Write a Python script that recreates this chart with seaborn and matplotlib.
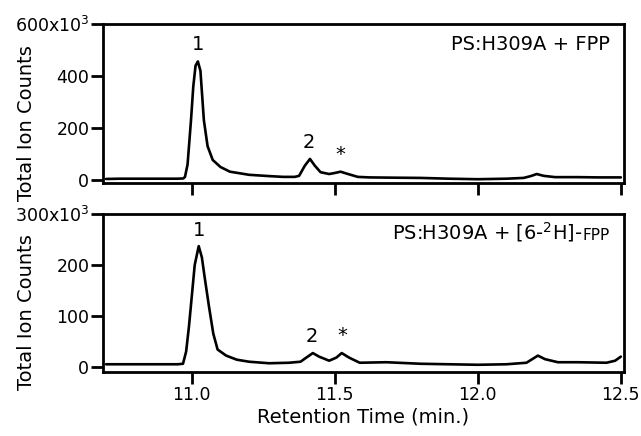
import matplotlib
matplotlib.use("Agg")
import matplotlib.pyplot as plt
import matplotlib.ticker as mticker
import seaborn as sns
import pandas as pd

# --- data (time in min, counts in thousands) ---
time_fpp = [10.70, 10.75, 10.80, 10.85, 10.90, 10.95, 10.970, 10.976, 10.985, 10.997,
            11.005, 11.013, 11.021, 11.030, 11.042, 11.055, 11.073, 11.100, 11.133, 11.200,
            11.270, 11.320, 11.360, 11.375, 11.395, 11.413, 11.430, 11.450, 11.480, 11.500,
            11.520, 11.540, 11.580, 11.620, 11.700, 11.800, 11.900, 12.000, 12.100, 12.160,
            12.185, 12.206, 12.230, 12.270, 12.350, 12.420, 12.500]
counts_fpp = [4, 5, 5, 5, 5, 5, 6, 12, 60, 230,
              360, 440, 456, 420, 230, 130, 77, 50, 32, 20,
              15, 12, 12, 16, 55, 81, 55, 30, 23, 27,
              32, 25, 12, 10, 9, 8, 5, 3, 5, 8,
              15, 23, 16, 11, 11, 10, 10]

time_d = [10.70, 10.80, 10.90, 10.95, 10.969, 10.980, 10.990, 11.000, 11.010, 11.024,
          11.035, 11.045, 11.060, 11.075, 11.090, 11.120, 11.157, 11.200, 11.270, 11.340,
          11.380, 11.400, 11.423, 11.445, 11.480, 11.505, 11.524, 11.550, 11.587, 11.680,
          11.800, 11.900, 12.000, 12.100, 12.170, 12.190, 12.210, 12.235, 12.280, 12.350,
          12.450, 12.480, 12.500]
counts_d = [5, 5, 5, 5, 6, 30, 80, 140, 200, 237,
            215, 175, 118, 65, 34, 22, 14, 10, 7, 8,
            10, 18, 27, 20, 12, 18, 27, 18, 8, 9,
            6, 5, 4, 5, 8, 15, 22, 15, 9, 9,
            8, 12, 20]

x_ticks = [11.0, 11.5, 12.0, 12.5]
y_ticks_top = [0, 200, 400, 600]
y_ticks_bot = [0, 100, 200, 300]

# peak labels: (label, time, counts)
peaks_fpp = [("1", 11.02, 456), ("2", 11.41, 81), ("*", 11.52, 32)]
peaks_d = [("1", 11.025, 237), ("2", 11.42, 27), ("*", 11.525, 27)]

sns.set_style("ticks")
plt.rcParams["font.family"] = ["DejaVu Sans"]
plt.rcParams["text.color"] = "black"
plt.rcParams["axes.labelcolor"] = "black"
plt.rcParams["xtick.color"] = "black"
plt.rcParams["ytick.color"] = "black"

fig = plt.figure(figsize=(6.41, 4.36), dpi=100)
ax1 = fig.add_axes([0.161, 0.580, 0.812, 0.365])
ax2 = fig.add_axes([0.161, 0.147, 0.812, 0.362])


def fmt_top(v, pos, top):
    if abs(v - top) < 1e-6:
        return f"{int(v)}x10$^3$"
    return f"{int(v)}"


def style_ax(ax, yticks, ylim, top):
    ax.set_xlim(10.69, 12.51)
    ax.set_ylim(*ylim)
    ax.set_xticks(x_ticks)
    ax.set_yticks(yticks)
    ax.yaxis.set_major_formatter(mticker.FuncFormatter(lambda v, p: fmt_top(v, p, top)))
    for s in ax.spines.values():
        s.set_visible(True)
        s.set_linewidth(2)
        s.set_color("black")
    ax.tick_params(axis="both", direction="out", length=8.5, width=2, colors="black",
                   labelsize=12.5, pad=1.5)
    ax.set_ylabel("Total Ion Counts", fontsize=14)
    ax.yaxis.set_label_coords(-0.13, 0.38)
    ax.set_xlabel("")


df1 = pd.DataFrame({"time": time_fpp, "counts": counts_fpp})
df2 = pd.DataFrame({"time": time_d, "counts": counts_d})

sns.lineplot(data=df1, x="time", y="counts", ax=ax1, color="black", linewidth=1.9)
sns.lineplot(data=df2, x="time", y="counts", ax=ax2, color="black", linewidth=1.9)
for ax in (ax1, ax2):
    for ln in ax.lines:
        ln.set_solid_joinstyle("round")

style_ax(ax1, y_ticks_top, (-12, 600), 600)
style_ax(ax2, y_ticks_bot, (-10, 300), 300)
ax1.tick_params(axis="x", labelbottom=False)

for lab, t, c in peaks_fpp:
    off = 28 if lab != "*" else 30
    ax1.text(t, c + off, lab, ha="center", va="bottom", fontsize=14)
for lab, t, c in peaks_d:
    off = 13 if lab != "*" else 15
    ax2.text(t, c + off, lab, ha="center", va="bottom", fontsize=14)

ax1.text(0.973, 0.836, "PS:H309A + FPP", transform=ax1.transAxes, ha="right",
         va="baseline", fontsize=14)
fpp = ax2.text(0.973, 0.835, "FPP", transform=ax2.transAxes, ha="right",
               va="baseline", fontsize=11)
ax2.annotate("PS:H309A + [6-$^{2}$H]-", xy=(0, 0), xycoords=fpp,
             xytext=(0, 2.6), textcoords="offset points",
             ha="right", va="baseline", fontsize=14)

ax2.set_xlabel("Retention Time (min.)", fontsize=14, labelpad=3)

fig.savefig("out.png", dpi=100)
